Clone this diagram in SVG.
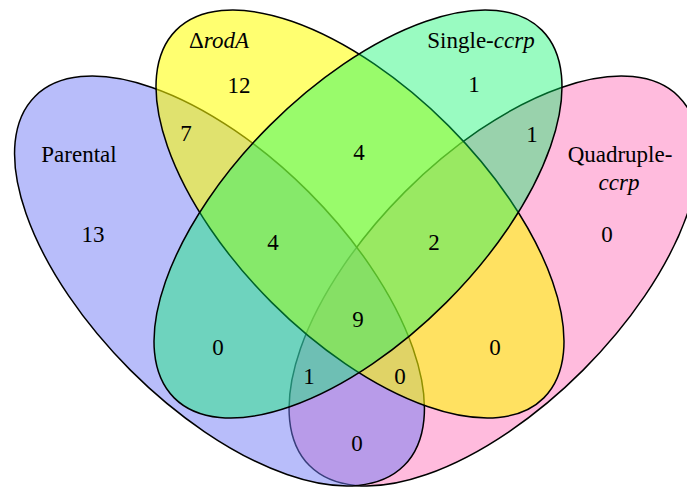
<svg xmlns="http://www.w3.org/2000/svg" width="687" height="489" viewBox="0 0 687 489">
<style>
.set{stroke:#000;stroke-width:1.5}
.t{font-family:"Liberation Serif","Times New Roman",serif;font-size:23px;fill:#000;text-anchor:middle}
.i{font-style:italic}
</style>
<rect width="687" height="489" fill="#fff"/>
<g id="set-quadruple-ccrp">
<ellipse class="set" cx="0" cy="0" rx="261" ry="126" transform="translate(494,281) rotate(-45)" fill="#FF77BB" fill-opacity="0.5"/>
<text class="t" x="620" y="162">Quadruple-</text>
<text class="t i" x="619" y="190">ccrp</text>
</g>
<g id="set-parental">
<ellipse class="set" cx="0" cy="0" rx="261" ry="126" transform="translate(219.5,281) rotate(45)" fill="#717BF5" fill-opacity="0.5"/>
<text class="t" x="79" y="162">Parental</text>
</g>
<g id="set-rodA">
<ellipse class="set" cx="0" cy="0" rx="260" ry="125" transform="translate(360,214) rotate(45)" fill="#FFFF00" fill-opacity="0.56"/>
<text class="t" x="219" y="48">Δ<tspan class="i">rodA</tspan></text>
</g>
<g id="set-single-ccrp">
<ellipse class="set" cx="0" cy="0" rx="260" ry="125" transform="translate(358,214) rotate(-45)" fill="#00F564" fill-opacity="0.4"/>
<text class="t" x="481" y="48">Single-<tspan class="i">ccrp</tspan></text>
</g>
<g id="counts">
<text class="t" x="93" y="242">13</text>
<text class="t" x="239" y="93">12</text>
<text class="t" x="186" y="141">7</text>
<text class="t" x="359" y="160">4</text>
<text class="t" x="474" y="92">1</text>
<text class="t" x="532" y="142">1</text>
<text class="t" x="607" y="242">0</text>
<text class="t" x="273" y="250">4</text>
<text class="t" x="434" y="250">2</text>
<text class="t" x="358" y="327">9</text>
<text class="t" x="218" y="355">0</text>
<text class="t" x="495" y="355">0</text>
<text class="t" x="309" y="384">1</text>
<text class="t" x="400" y="384">0</text>
<text class="t" x="357" y="451">0</text>
</g>
</svg>
